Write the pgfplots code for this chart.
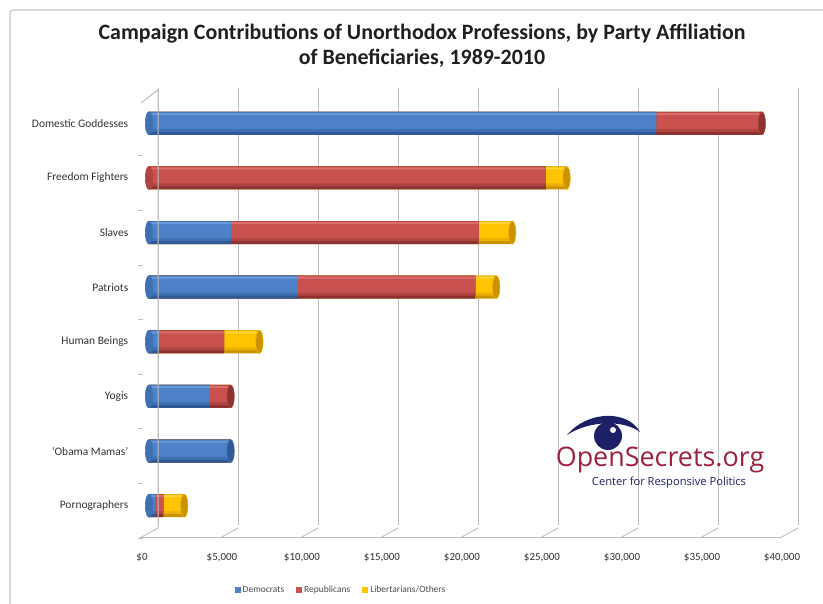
\documentclass[border=0pt]{standalone}
\usepackage{pgfplots}
\usepackage{pgfplotstable}
\pgfplotsset{compat=1.18}
\usepackage{fontspec}
\setmainfont{Carlito}
\newfontfamily\logofont{Open Sans}

\definecolor{dem}{HTML}{4D82C8}
\definecolor{demL}{HTML}{6B9AD8}
\definecolor{demM}{HTML}{3F70B2}
\definecolor{demD}{HTML}{2F5A98}
\definecolor{rep}{HTML}{C9524F}
\definecolor{repL}{HTML}{DA6F6C}
\definecolor{repM}{HTML}{B04441}
\definecolor{repD}{HTML}{8C3331}
\definecolor{lib}{HTML}{FFC400}
\definecolor{libL}{HTML}{FFD43A}
\definecolor{libM}{HTML}{EDB000}
\definecolor{libD}{HTML}{C99300}
\definecolor{gridc}{HTML}{BFBFBF}
\definecolor{osred}{HTML}{9B2340}
\definecolor{osnavy}{HTML}{1D2066}

% contributions in dollars, categories bottom (0) to top (7)
\pgfplotstableread{
idx dem   rep   lib
0   400   500   1300
1   5100  0     0
2   3800  1300  0
3   600   4100  2200
4   9300  11100 1300
5   5100  15500 2100
6   0     24800 1300
7   31700 6600  0
}\contrib

% one cylinder-like layer: dark bottom, body, thin light top edge
\newcommand{\barlayer}[5]{%
  \addplot[forget plot, draw=none, fill=#2, bar width=23bp, bar shift=0bp] table[x expr={#1}, y=idx] {\contrib};
  \addplot[forget plot, draw=none, fill=#3, bar width=20bp, bar shift=1.5bp] table[x expr={#1}, y=idx] {\contrib};
  \addplot[forget plot, draw=none, fill=#4, bar width=16bp, bar shift=2.5bp] table[x expr={#1}, y=idx] {\contrib};
  \addplot[forget plot, draw=none, fill=#5, bar width=2bp, bar shift=9.5bp] table[x expr={#1}, y=idx] {\contrib};
}
\newcommand{\barcap}[3]{%
  \addplot[forget plot, only marks, mark=*, mark size=11.5bp,
    mark options={xscale=0.32, fill=#2, draw=#3, line width=0.6bp}]
    table[x expr={#1}, y=idx] {\contrib};
}

\begin{document}
\begin{tikzpicture}[x=1bp,y=1bp]
\path[use as bounding box] (0,0) rectangle (823,604);
\fill[white] (0,0) rectangle (823,604);
% chart area frame
\draw[gray!45, line width=1.2bp, rounded corners=3bp] (10,-5) -- (10,594) -- (830,594);

% title
\node[font=\fontsize{22}{25}\selectfont\bfseries, align=center, text=black!88] at (422,558)
  {Campaign Contributions of Unorthodox Professions, by Party Affiliation\\of Beneficiaries, 1989-2010};

\begin{axis}[
  at={(149bp,71bp)}, anchor=south west,
  scale only axis, width=640bp, height=437bp,
  xbar, bar shift=0bp,
  unbounded coords=discard,
  xmin=0, xmax=40000,
  ymin=-0.5, ymax=7.5,
  clip=false,
  axis line style={draw=none},
  tick style={draw=none},
  xtick={0,5000,...,40000},
  scaled x ticks=false,
  /pgf/number format/.cd, 1000 sep={,}, assume math mode=true,
  /pgfplots/.cd,
  xticklabel={\$\pgfmathprintnumber{\tick}},
  xticklabel style={font=\fontsize{11}{13}\selectfont, text=black!80, xshift=-7bp, yshift=-17bp},
  ytick={0,...,7},
  yticklabels={Pornographers,{`Obama Mamas'},Yogis,Human Beings,Patriots,Slaves,Freedom Fighters,Domestic Goddesses},
  yticklabel style={font=\fontsize{11.5}{13}\selectfont, text=black!80, xshift=-13bp},
  xmajorgrids,
  major grid style={draw=gridc, line width=1bp, xshift=9bp, yshift=8bp},
  legend style={at={(0.300,-0.130)}, anchor=center, draw=none, fill=none,
    legend columns=3, font=\fontsize{9.5}{11}\selectfont, text=black!70,
    /tikz/every even column/.append style={column sep=10bp}},
  legend cell align=left,
  legend image code/.code={\path[#1] (0bp,-3bp) rectangle (6bp,3bp);},
]
\addlegendimage{fill=dem, draw=none}
\addlegendentry{Democrats}
\addlegendimage{fill=rep, draw=none}
\addlegendentry{Republicans}
\addlegendimage{fill=lib, draw=none}
\addlegendentry{Libertarians/Others}

% rounded left ends
\barcap{\thisrow{dem}>0 ? 0 : nan}{demM}{demM}
\barcap{\thisrow{dem}>0 ? nan : 0}{repM}{repM}

% segments drawn as overlaid cumulative bars
\barlayer{\thisrow{dem}+\thisrow{rep}+\thisrow{lib}}{libD}{libM}{lib}{libL}
\barlayer{\thisrow{dem}+\thisrow{rep}}{repD}{repM}{rep}{repL}
\barlayer{\thisrow{dem}}{demD}{demM}{dem}{demL}

% end caps of each bar
\barcap{\thisrow{lib}>0 ? \thisrow{dem}+\thisrow{rep}+\thisrow{lib} : nan}{libD}{libM}
\barcap{(\thisrow{lib}==0)&&(\thisrow{rep}>0) ? \thisrow{dem}+\thisrow{rep} : nan}{repD}{repM}
\barcap{(\thisrow{lib}==0)&&(\thisrow{rep}==0) ? \thisrow{dem} : nan}{demD}{demM}
\end{axis}

% 3-D floor and wall edges
\draw[gridc, line width=1bp] (140,66) -- (780,66);
\foreach \i in {0,...,8} {
  \draw[gridc, line width=1bp] ({140+80*\i},66) -- ({158+80*\i},76);
}
\draw[gridc, line width=1bp] (158,76) -- (158,514) -- (141,501);
\foreach \k in {0,...,7} {
  \draw[gridc, line width=1bp] (138,{448-54.6*\k}) -- (143,{448-54.6*\k});
}

% logo
\fill[osnavy] (567,169) .. controls (588,194) and (628,194) .. (640,172)
  .. controls (624,184) and (590,184) .. (567,169) -- cycle;
\fill[osnavy] (608,168) circle (14);
\fill[white] (613,174) circle (3);
\node[font=\logofont\fontsize{27}{30}\selectfont, text=osred, anchor=base] at (660,137) {OpenSecrets.org};
\node[font=\logofont\fontsize{11.2}{13}\selectfont, text=osnavy, anchor=base] at (669,118) {Center for Responsive Politics};
\end{tikzpicture}
\end{document}
